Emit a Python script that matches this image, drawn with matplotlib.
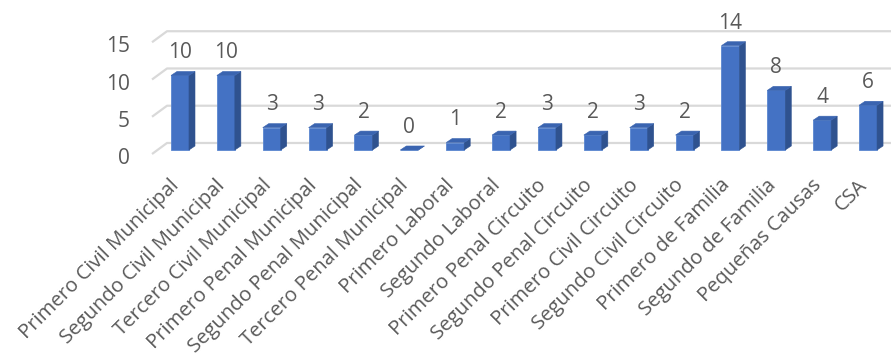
import matplotlib
matplotlib.use("Agg")
import matplotlib.pyplot as plt
from matplotlib.patches import Polygon

juzgados = ["Primero Civil Municipal", "Segundo Civil Municipal",
            "Tercero Civil Municipal", "Primero Penal Municipal",
            "Segundo Penal Municipal", "Tercero Penal Municipal",
            "Primero Laboral", "Segundo Laboral", "Primero Penal Circuito",
            "Segundo Penal Circuito", "Primero Civil Circuito",
            "Segundo Civil Circuito", "Primero de Familia",
            "Segundo de Familia", "Pequeñas Causas", "CSA"]
valores = [10, 10, 3, 3, 2, 0, 1, 2, 3, 2, 3, 2, 14, 8, 4, 6]
ticks_y = [0, 5, 10, 15]

plt.rcParams["font.family"] = ["Open Sans", "DejaVu Sans"]
GRIS = "#595959"
FRENTE = "#4472C4"
LADO = "#2F528F"
TAPA = "#3A64B0"

fig = plt.figure(figsize=(8.93, 3.56), dpi=100)
ax = fig.add_axes([0, 0, 1, 1])
ax.set_xlim(-3.924, 15.544)
ax.set_ylim(-27.65, 20.13)
ax.axis("off")

# profundidad del efecto 3D
ancho = 0.196
dx, dy = 0.131, 0.537

# lineas de division con el piso inclinado a la izquierda
for v in ticks_y:
    ax.plot([-0.61, -0.283, 15.5], [v - 0.54, v + 0.94, v + 0.94],
            color="#D9D9D9", lw=1.6, zorder=1, solid_capstyle="butt")
    ax.text(-1.09, v - 1.9, str(v), ha="right", va="baseline",
            fontsize=15, color=GRIS)

for i, (nombre, v) in enumerate(zip(juzgados, valores)):
    x0, x1 = i - ancho, i + ancho
    frente = Polygon([(x0, 0), (x1, 0), (x1, v), (x0, v)],
                     closed=True, fc=FRENTE, ec="#5A86D0", lw=0.6, zorder=3)
    lado = Polygon([(x1, 0), (x1 + dx, dy), (x1 + dx, v + dy), (x1, v)],
                   closed=True, fc=LADO, ec=LADO, lw=0.4, zorder=3)
    tapa = Polygon([(x0, v), (x1, v), (x1 + dx, v + dy), (x0 + dx, v + dy)],
                   closed=True, fc=TAPA, ec=TAPA, lw=0.4, zorder=4)
    for p in (frente, lado, tapa):
        ax.add_patch(p)
    ax.text(i, v + 2.3, str(v), ha="center", va="baseline",
            fontsize=15, color=GRIS)
    ax.text(i, -4.83, nombre, ha="right", va="baseline", rotation=45,
            rotation_mode="anchor", fontsize=14.6, color=GRIS)

fig.savefig("out.png", dpi=100)
